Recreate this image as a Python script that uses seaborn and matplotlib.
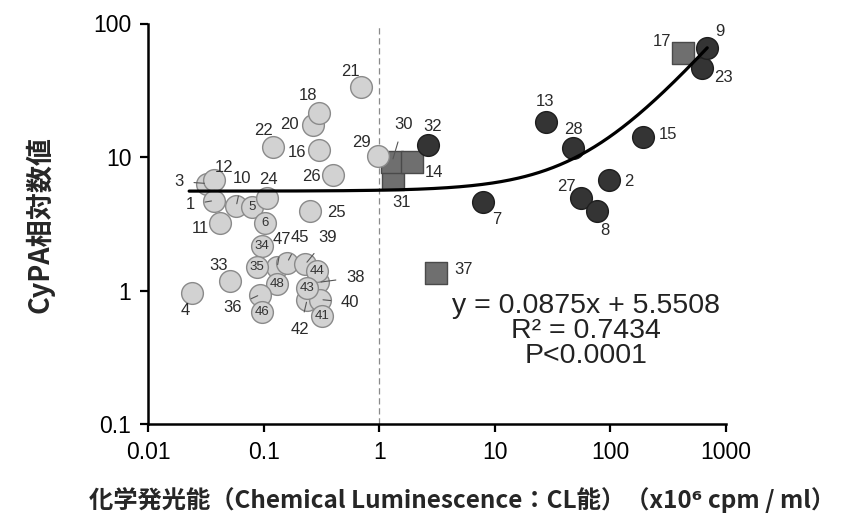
import matplotlib
matplotlib.use("Agg")
import matplotlib.pyplot as plt
import seaborn as sns
import pandas as pd
import numpy as np

# --- data (CL x10^6 cpm/ml, CyPA relative value) ---
# light grey circles: CL below 1
low_ids = [3, 12, 1, 10, 5, 24, 11, 6, 25, 26, 16, 22, 20, 18, 21, 29,
           47, 45, 39, 38, 42, 40, 34, 35, 48, 44, 43, 41, 36, 46, 33, 4]
low_cl = [0.0325, 0.0374, 0.0374, 0.0579, 0.0797, 0.107, 0.0421, 0.103,
          0.253, 0.400, 0.303, 0.121, 0.269, 0.303, 0.699, 0.98,
          0.131, 0.160, 0.229, 0.297, 0.238, 0.309, 0.0973, 0.0880,
          0.131, 0.291, 0.238, 0.321, 0.0935, 0.0973, 0.0514, 0.0241]
low_cypa = [6.33, 6.67, 4.72, 4.26, 4.19, 4.97, 3.23, 3.18,
            3.91, 7.39, 11.2, 11.8, 17.5, 21.5, 33.2, 10.1,
            1.49, 1.62, 1.57, 1.15, 0.856, 0.856, 2.14, 1.49,
            1.11, 1.39, 1.05, 0.639, 0.933, 0.696, 1.17, 0.966]

# grey squares
sq_ids = [31, 30, 14, 37, 17]
sq_cl = [1.32, 1.295, 1.93, 3.11, 426]
sq_cypa = [6.90, 9.25, 9.10, 1.36, 60.6]

# dark circles
high_ids = [32, 7, 13, 28, 27, 8, 2, 15, 23, 9]
high_cl = [2.65, 7.94, 27.8, 47.7, 55.9, 76.9, 97.7, 192, 622, 688]
high_cypa = [12.2, 4.64, 18.4, 11.6, 4.89, 3.91, 6.78, 14.2, 46.8, 66.1]

# regression shown in the chart
slope, intercept = 0.0875, 5.5508
fit_range = [0.0227, 688]
stats_lines = ["y = 0.0875x + 5.5508", "R² = 0.7434", "P<0.0001"]

x_ticks = [0.01, 0.1, 1, 10, 100, 1000]
x_tick_labels = ["0.01", "0.1", "1", "10", "100", "1000"]
y_ticks = [0.1, 1, 10, 100]
y_tick_labels = ["0.1", "1", "10", "100"]

x_label = "化学発光能（Chemical Luminescence：CL能）（x10⁶ cpm / ml）"
y_label = "CyPA相対数値"

# label placement: id -> (dx, dy in pixels, image-down positive), leader line?
label_pos = {
    1: (-24, 4, True), 3: (-28, -2, True), 12: (10, -13, False), 10: (6, -28, True),
    5: (0, 0, False), 24: (1, -18, False), 11: (-20, 6, False), 6: (0, 0, False),
    25: (26, 1, False), 26: (-22, 2, False), 16: (-22, 2, False), 22: (-10, -17, False),
    20: (-24, 0, False), 18: (-11, -17, False), 21: (-11, -16, False), 29: (-17, -14, False),
    47: (5, -28, True), 45: (13, -25, True), 39: (22, -27, True), 38: (37, -5, True),
    42: (-7, 30, True), 40: (30, 3, True), 34: (0, 0, False), 35: (0, 0, False),
    48: (0, 0, False), 44: (0, 0, False), 43: (0, 0, False), 41: (0, 0, False),
    36: (-28, 13, True), 46: (0, 0, False), 33: (-12, -16, False), 4: (-7, 18, False),
    31: (8, 24, False), 30: (11, -37, True), 14: (22, 10, False), 37: (27, -3, False),
    17: (-21, -11, False), 32: (4, -19, False), 7: (14, 18, False), 13: (-1, -20, False),
    28: (0, -19, False), 27: (-15, -12, False), 8: (8, 19, False), 2: (20, 2, False),
    15: (25, -2, False), 23: (21, 10, False), 9: (13, -16, False),
}

df = pd.concat([
    pd.DataFrame({"id": sq_ids, "cl": sq_cl, "cypa": sq_cypa, "group": "square"}),
    pd.DataFrame({"id": low_ids, "cl": low_cl, "cypa": low_cypa, "group": "low"}),
    pd.DataFrame({"id": high_ids, "cl": high_cl, "cypa": high_cypa, "group": "high"}),
], ignore_index=True)

styles = {
    "square": dict(marker="s", color="#6f6f6f", edgecolor="#4a4a4a", s=250),
    "low": dict(marker="o", color="#d2d2d2", edgecolor="#8a8a8a", s=245),
    "high": dict(marker="o", color="#343434", edgecolor="#1e1e1e", s=245),
}

sns.set_style("ticks")
plt.rcParams["font.family"] = ["Liberation Sans", "DejaVu Sans"]

fig = plt.figure(figsize=(8.45, 5.27), dpi=100)
ax = fig.add_axes([148 / 845, 1 - 424 / 527, 578 / 845, 400.5 / 527])

ax.axvline(1, color="#8a8a8a", lw=0.9, ls=(0, (5, 3)), zorder=1)

for grp in ["square", "low", "high"]:
    st = styles[grp]
    sns.scatterplot(data=df[df["group"] == grp], x="cl", y="cypa", ax=ax,
                    marker=st["marker"], color=st["color"], edgecolor=st["edgecolor"],
                    s=st["s"], linewidth=1.0, legend=False, zorder=3)

fit_x = np.geomspace(fit_range[0], fit_range[1], 300)
fit_df = pd.DataFrame({"cl": fit_x, "cypa": slope * fit_x + intercept})
sns.lineplot(data=fit_df, x="cl", y="cypa", ax=ax, color="black", lw=2.3, zorder=4)

# point numbers
for _, row in df.iterrows():
    dx, dy, leader = label_pos[int(row["id"])]
    inside = dx == 0 and dy == 0
    kw = dict(xy=(row["cl"], row["cypa"]), xytext=(dx, -dy), textcoords="offset pixels",
              ha="center", va="center", fontsize=9.5 if inside else 12,
              color="#333333" if inside else "#2a2a2a", zorder=5)
    if leader:
        kw["arrowprops"] = dict(arrowstyle="-", color="#555555", lw=0.8,
                                shrinkA=5, shrinkB=2)
    ax.annotate(str(int(row["id"])), **kw)

ax.set_xscale("log")
ax.set_yscale("log")
ax.set_xlim(0.01, 1000)
ax.set_ylim(0.1, 100)
ax.set_xticks(x_ticks)
ax.set_xticklabels(x_tick_labels)
ax.set_yticks(y_ticks)
ax.set_yticklabels(y_tick_labels)
ax.minorticks_off()
ax.tick_params(axis="both", direction="out", length=6, width=1.6, labelsize=16.5,
               colors="black", pad=6)
ax.set_xlabel("")
ax.set_ylabel("")
sns.despine(ax=ax)
for sp in ["left", "bottom"]:
    ax.spines[sp].set_linewidth(1.8)
    ax.spines[sp].set_color("black")

for i, line in enumerate(stats_lines):
    ax.text(0.758, 0.295 - i * 0.0625, line, transform=ax.transAxes,
            ha="center", va="center", fontsize=20.5, color="#222222")

cjk = ["Noto Sans CJK JP", "DejaVu Sans"]
fig.text(462 / 845, 1 - 500 / 527, x_label, ha="center", va="center",
         fontsize=17.5, fontweight="bold", family=cjk)
fig.text(40 / 845, 1 - 224 / 527, y_label, ha="center", va="center",
         rotation=90, fontsize=19.5, fontweight="bold", family=cjk)

fig.savefig("out.png", dpi=100)
plt.close(fig)
